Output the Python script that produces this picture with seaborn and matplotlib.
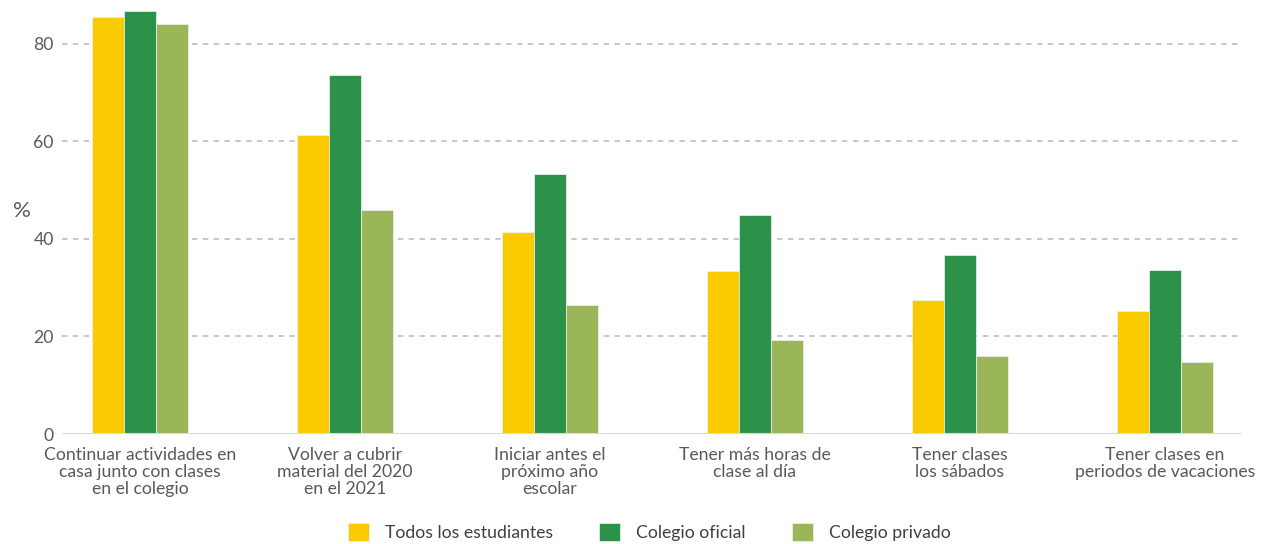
import numpy as np
import pandas as pd
import matplotlib.pyplot as plt
import seaborn as sns

## =============================== ##
## data

categories = ['Continuar actividades en\ncasa junto con clases\nen el colegio',
              'Volver a cubrir\nmaterial del 2020\nen el 2021',
              'Iniciar antes el\npróximo año\nescolar',
              'Tener más horas de\nclase al día',
              'Tener clases\nlos sábados',
              'Tener clases en\nperiodos de vacaciones']
series = ['Todos los estudiantes', 'Colegio oficial', 'Colegio privado']
todos = [85.5, 61.3, 41.4, 33.4, 27.5, 25.2]
oficial = [86.8, 73.6, 53.3, 44.9, 36.8, 33.6]
privado = [84.1, 45.9, 26.5, 19.3, 15.9, 14.8]
yticks = [0, 20, 40, 60, 80]

COLORS = ['#F9CB00', '#2C9249', '#9BB658']

## =============================== ##

df = pd.DataFrame({
	'categoria': categories * 3,
	'serie': [s for s in series for _ in categories],
	'valor': todos + oficial + privado,
})

sns.set_style('white')
plt.rcParams['font.family'] = ['Lato', 'DejaVu Sans']

fig = plt.figure(figsize=(12.61, 5.44), dpi=100)
ax = fig.add_axes([0.0492, 0.2022, 0.9348, 0.7978])

sns.barplot(ax=ax, data=df, x='categoria', y='valor', hue='serie', order=categories,
			hue_order=series, palette=COLORS, width=0.47, edgecolor='#f2f2f2', linewidth=0.5,
			saturation=1, legend=True)

ax.set_xlim(-0.38, 5.37)
ax.set_ylim(0, 89)
ax.set_yticks(yticks)
for t in yticks[1:]:
	ax.axhline(t, color='#c3c3c3', lw=1.3, ls=(0, (3, 3)), zorder=0)
ax.axhline(0, color='#d9d9d9', lw=1.5, zorder=3)
sns.despine(ax=ax, left=True, bottom=True, top=True, right=True)
ax.tick_params(axis='both', length=0, labelsize=12.7, colors='#595959', pad=9)
ax.tick_params(axis='y', pad=6)
for lab in ax.get_xticklabels():
	lab.set_linespacing(1.08)
ax.set_xlabel('')
ax.set_ylabel('%', rotation=0, fontsize=16, color='#595959')
ax.yaxis.set_label_coords(-0.034, 0.49)

handles, labels = ax.get_legend_handles_labels()
ax.legend_.remove()
fig.legend(handles, labels, loc='center', bbox_to_anchor=(0.515, 0.022), ncol=3, frameon=False,
		   fontsize=12.7, labelcolor='#404040', handlelength=1.2, handleheight=1.2,
		   handletextpad=0.9, columnspacing=2.6)

fig.savefig('out.png', dpi=100)
